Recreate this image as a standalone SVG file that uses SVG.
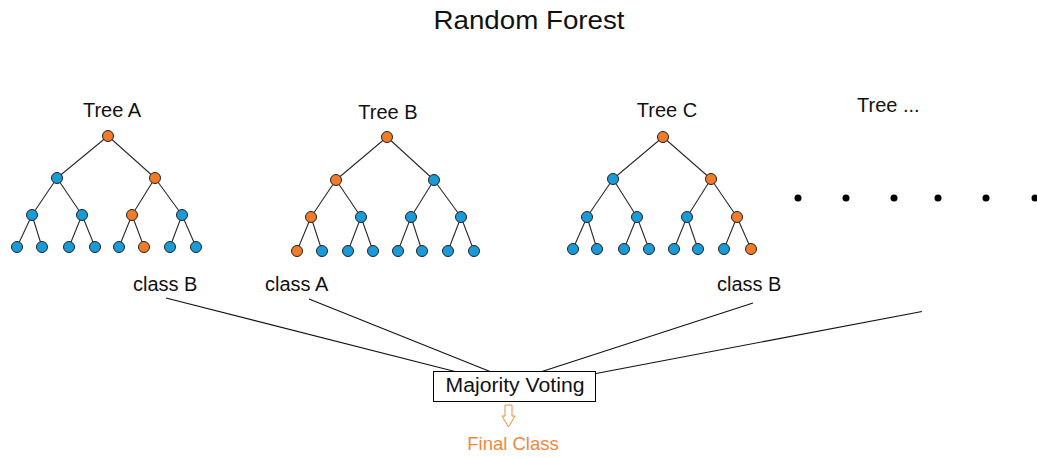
<svg xmlns="http://www.w3.org/2000/svg" width="1037" height="458" viewBox="0 0 1037 458">
<style>
.t{font-family:"Liberation Sans",Arial,sans-serif;fill:#111}
.b{fill:#1a9ad6;stroke:#222;stroke-width:1}
.o{fill:#f07b2a;stroke:#222;stroke-width:1}
.e{fill:none;stroke:#2a2a2a;stroke-width:1.1}
.v{fill:none;stroke:#111;stroke-width:1.1}
.d{fill:#000}
</style>
<rect width="1037" height="458" fill="#fff"/>
<text class="t" x="529" y="29" font-size="26" text-anchor="middle" textLength="191" lengthAdjust="spacingAndGlyphs">Random Forest</text>

<g id="connectors">
<path class="e" d="M108,136L57,178M108,136L155,178M57,178L32,215M57,178L82,215M155,178L132,215M155,178L182,215M32,215L17,247M32,215L42,247M82,215L69,247M82,215L95,247M132,215L119,247M132,215L144,247M182,215L170,247M182,215L196,247"/>
<path class="e" d="M387,137L336,180M387,137L434,180M336,180L311,217M336,180L361,217M434,180L411,217M434,180L461,217M311,217L297,251M311,217L322,251M361,217L348,251M361,217L373,251M411,217L398,251M411,217L422,251M461,217L448,251M461,217L474,251"/>
<path class="e" d="M663,137L613,179M663,137L711,179M613,179L587,217M613,179L637,217M711,179L687,217M711,179L737,217M587,217L573,249M587,217L597,249M637,217L624,249M637,217L649,249M687,217L674,249M687,217L698,249M737,217L724,249M737,217L751,249"/>
<path class="v" d="M166,298L455,371.5M309,299L490,371.5M753,303L542,371.5M922,311.5L596,373.5"/>
</g>

<g id="treeA">
<text class="t" x="112" y="117" font-size="20" text-anchor="middle">Tree A</text>
<circle class="o" cx="108" cy="136" r="5.5"/>
<circle class="b" cx="57" cy="178" r="5.5"/>
<circle class="o" cx="155" cy="178" r="5.5"/>
<circle class="b" cx="32" cy="215" r="5.5"/>
<circle class="b" cx="82" cy="215" r="5.5"/>
<circle class="o" cx="132" cy="215" r="5.5"/>
<circle class="b" cx="182" cy="215" r="5.5"/>
<circle class="b" cx="17" cy="247" r="5.5"/>
<circle class="b" cx="42" cy="247" r="5.5"/>
<circle class="b" cx="69" cy="247" r="5.5"/>
<circle class="b" cx="95" cy="247" r="5.5"/>
<circle class="b" cx="119" cy="247" r="5.5"/>
<circle class="o" cx="144" cy="247" r="5.5"/>
<circle class="b" cx="170" cy="247" r="5.5"/>
<circle class="b" cx="196" cy="247" r="5.5"/>
<text class="t" x="133" y="291" font-size="20">class B</text>
</g>

<g id="treeB">
<text class="t" x="388" y="119" font-size="20" text-anchor="middle">Tree B</text>
<circle class="o" cx="387" cy="137" r="5.5"/>
<circle class="o" cx="336" cy="180" r="5.5"/>
<circle class="b" cx="434" cy="180" r="5.5"/>
<circle class="o" cx="311" cy="217" r="5.5"/>
<circle class="b" cx="361" cy="217" r="5.5"/>
<circle class="b" cx="411" cy="217" r="5.5"/>
<circle class="b" cx="461" cy="217" r="5.5"/>
<circle class="o" cx="297" cy="251" r="5.5"/>
<circle class="b" cx="322" cy="251" r="5.5"/>
<circle class="b" cx="348" cy="251" r="5.5"/>
<circle class="b" cx="373" cy="251" r="5.5"/>
<circle class="b" cx="398" cy="251" r="5.5"/>
<circle class="b" cx="422" cy="251" r="5.5"/>
<circle class="b" cx="448" cy="251" r="5.5"/>
<circle class="b" cx="474" cy="251" r="5.5"/>
<text class="t" x="265" y="291" font-size="20">class A</text>
</g>

<g id="treeC">
<text class="t" x="667" y="117" font-size="20" text-anchor="middle">Tree C</text>
<circle class="o" cx="663" cy="137" r="5.5"/>
<circle class="b" cx="613" cy="179" r="5.5"/>
<circle class="o" cx="711" cy="179" r="5.5"/>
<circle class="b" cx="587" cy="217" r="5.5"/>
<circle class="b" cx="637" cy="217" r="5.5"/>
<circle class="b" cx="687" cy="217" r="5.5"/>
<circle class="o" cx="737" cy="217" r="5.5"/>
<circle class="b" cx="573" cy="249" r="5.5"/>
<circle class="b" cx="597" cy="249" r="5.5"/>
<circle class="b" cx="624" cy="249" r="5.5"/>
<circle class="b" cx="649" cy="249" r="5.5"/>
<circle class="b" cx="674" cy="249" r="5.5"/>
<circle class="b" cx="698" cy="249" r="5.5"/>
<circle class="b" cx="724" cy="249" r="5.5"/>
<circle class="o" cx="751" cy="249" r="5.5"/>
<text class="t" x="717" y="291" font-size="20">class B</text>
</g>

<g id="treeMore">
<text class="t" x="857" y="112" font-size="20">Tree ...</text>
<circle class="d" cx="798" cy="198" r="3.5"/>
<circle class="d" cx="846" cy="198" r="3.5"/>
<circle class="d" cx="894" cy="198" r="3.5"/>
<circle class="d" cx="938" cy="198" r="3.5"/>
<circle class="d" cx="986" cy="198" r="3.5"/>
<circle class="d" cx="1035" cy="198" r="3.5"/>
</g>

<g id="voting">
<rect x="433.5" y="371.5" width="162" height="30" fill="#fff" stroke="#000" stroke-width="1"/>
<text class="t" x="515" y="392" font-size="20" text-anchor="middle" textLength="139" lengthAdjust="spacingAndGlyphs">Majority Voting</text>
</g>

<g id="final">
<path d="M505,405H512V416H515L508.5,427L502,416H505Z" fill="#fff" stroke="#f0883e" stroke-width="1"/>
<text x="513" y="450" font-size="18.5" text-anchor="middle" font-family="Liberation Sans, Arial, sans-serif" fill="#f0883e">Final Class</text>
</g>
</svg>
